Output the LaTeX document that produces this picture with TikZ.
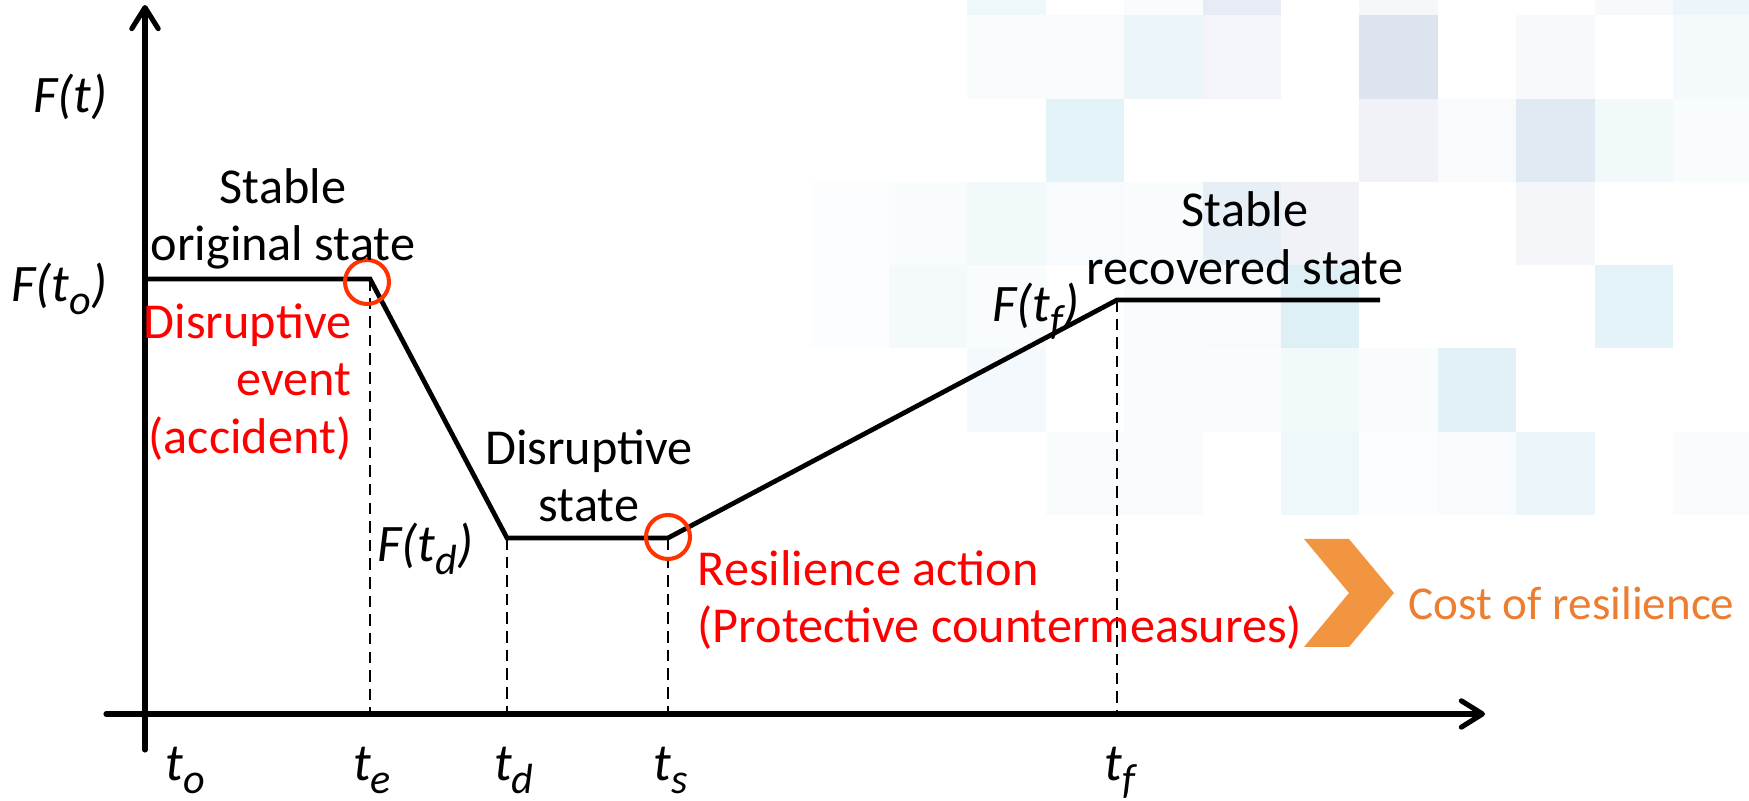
\documentclass[tikz,border=0pt]{standalone}
\usepackage{fontspec}
\setmainfont{Carlito}
\usepackage{xcolor}
\usepackage{tikz}
\usetikzlibrary{arrows.meta}
\definecolor{eventred}{RGB}{255,0,0}
\definecolor{ringred}{RGB}{255,51,0}
\definecolor{costorange}{RGB}{237,125,49}
\definecolor{chevorange}{RGB}{242,149,65}
\definecolor{tileblue}{RGB}{200,230,240}
\definecolor{tilelav}{RGB}{195,204,228}
\definecolor{tilegray}{RGB}{185,209,229}
% lowered italic index, as on t_o, t_e, ...
\newcommand{\tidx}[1]{\raisebox{-3.6pt}{\fontsize{12}{13}\selectfont\itshape #1}}
\tikzset{
axisline/.style={line width=1.45pt, line cap=round, -{Straight Barb[length=6pt,width=7.5pt,round]}},
curveline/.style={line width=1.35pt, line join=miter},
guideline/.style={line width=0.6pt, dash pattern=on 3.3pt off 2pt},
eventring/.style={circle, draw=ringred, line width=1.15pt, fill=none, inner sep=0pt, minimum size=0.44cm},
statetext/.style={align=center, inner sep=0pt, font=\fontsize{14.3}{16.4}\selectfont},
eventtext/.style={text=eventred, inner sep=0pt, font=\fontsize{14.3}{16.4}\selectfont},
valuetext/.style={inner sep=0pt, font=\fontsize{15}{17}\selectfont\itshape},
ticktext/.style={inner sep=0pt, anchor=base, font=\fontsize{15}{17}\selectfont\itshape},
}

\begin{document}
\begin{tikzpicture}
\useasboundingbox (-1.45,-0.87) rectangle (16.04,7.14);

% faded tile mosaic in the upper right
\begin{scope}
\clip (-1.45,-0.87) rectangle (16.04,7.14);
\foreach \c/\r/\tone in {
  1/0/tileblue!30, 3/0/tileblue!12, 4/0/tilelav!40, 6/0/tilelav!15, 9/0/tilelav!12, 10/0/tileblue!35,
  1/1/tileblue!12, 2/1/tilelav!8, 3/1/tileblue!35, 4/1/tilelav!20, 6/1/tilelav!55, 8/1/tilelav!12, 10/1/tileblue!20,
  2/2/tileblue!50, 6/2/tilelav!25, 7/2/tilelav!10, 8/2/tilegray!45, 9/2/tileblue!25, 10/2/tileblue!12,
  -1/3/tileblue!6, 0/3/tileblue!12, 1/3/tileblue!25, 2/3/tileblue!15, 3/3/tileblue!10, 4/3/tilegray!35, 5/3/tilelav!25, 8/3/tilelav!18,
  -1/4/tileblue!8, 0/4/tileblue!20, 1/4/tileblue!12, 3/4/tileblue!10, 4/4/tileblue!15, 5/4/tileblue!60, 9/4/tileblue!50,
  1/5/tileblue!22, 3/5/tileblue!10, 4/5/tileblue!12, 5/5/tileblue!25, 6/5/tileblue!10, 7/5/tileblue!55,
  2/6/tileblue!12, 3/6/tileblue!10, 5/6/tileblue!30, 6/6/tileblue!8, 7/6/tileblue!15, 8/6/tileblue!35, 10/6/tilelav!8}
  \fill[\tone] (7.44+0.784*\c,7.82-0.833*\r) rectangle ++(0.784,-0.833);
\end{scope}

% axes
\coordinate (o) at (0,0);
\coordinate (ybot) at (0,-0.36);
\coordinate (ytop) at (0,7.09);
\coordinate (xleft) at (-0.39,0);
\coordinate (xright) at (13.40,0);
\draw[axisline] (ybot) -- (ytop);
\draw[axisline] (xleft) -- (xright);

% corners of F(t)
\coordinate (p0) at (0,4.35);
\coordinate (pe) at (2.25,4.35);
\coordinate (pd) at (3.62,1.76);
\coordinate (ps) at (5.23,1.76);
\coordinate (pf) at (9.72,4.14);
\coordinate (pend) at (12.35,4.14);

\draw[guideline] (pe) -- (pe |- o);
\draw[guideline] (pd) -- (pd |- o);
\draw[guideline] (ps) -- (ps |- o);
\draw[guideline] (pf) -- (pf |- o);
\draw[curveline] (p0) -- (pe) -- (pd) -- (ps) -- (pf) -- (pend);

\node[eventring] at (2.22,4.32) (ringe) {};
\node[eventring] at (5.23,1.77) (rings) {};

% value labels
\node[valuetext, anchor=base east] at (-0.37,6.01) (Ft) {F(t)};
\node[valuetext, anchor=base east] at (-0.37,4.12) (Fto) {F(t\tidx{o})};
\node[valuetext, anchor=base west] at (2.32,1.52) (Ftd) {F(t\tidx{d})};
\node[valuetext, anchor=base west] at (8.47,3.92) (Ftf) {F(t\tidx{f})};

% time labels
\node[ticktext] at (0.40,-0.665) (to) {t\tidx{o}};
\node[ticktext] at (2.27,-0.665) (te) {t\tidx{e}};
\node[ticktext] at (3.69,-0.665) (td) {t\tidx{d}};
\node[ticktext] at (5.26,-0.665) (ts) {t\tidx{s}};
\node[ticktext] at (9.75,-0.665) (tf) {t\tidx{f}};

% states
\node[statetext] at (1.38,4.95) (orig) {Stable\\original state};
\node[statetext] at (4.44,2.38) (disr) {Disruptive\\state};
\node[statetext] at (11.00,4.76) (recov) {Stable\\recovered state};

% events
\node[eventtext, align=right, anchor=east] at (2.07,3.32) (accident) {Disruptive\\event\\(accident)};
\node[eventtext, align=left, anchor=west] at (5.52,1.14) (action) {Resilience action\\(Protective countermeasures)};

% cost
\fill[chevorange] (11.59,1.75) -- (12.04,1.75) -- (12.49,1.21) -- (12.04,0.67) -- (11.59,0.67) -- (12.04,1.21) -- cycle;
\node[inner sep=0pt, anchor=base west, text=costorange, font=\fontsize{13.4}{16.4}\selectfont] at (12.63,0.94) (cost) {Cost of resilience};
\end{tikzpicture}
\end{document}
